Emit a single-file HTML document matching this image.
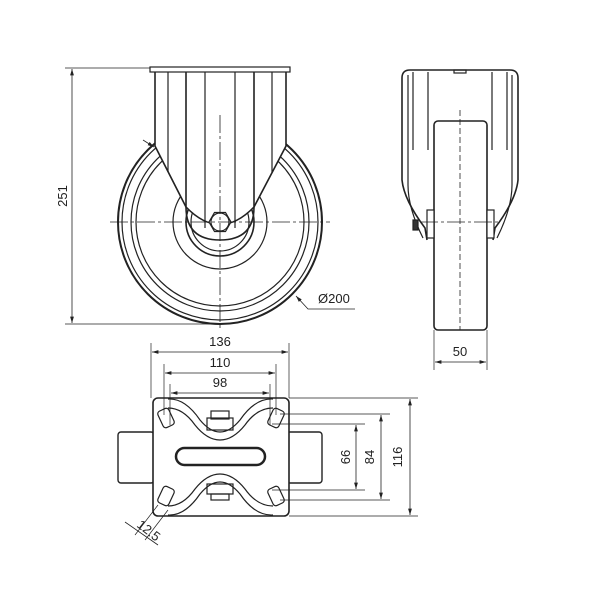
<!DOCTYPE html>
<html><head><meta charset="utf-8"><style>
html,body{margin:0;padding:0;background:#fff;}
svg{display:block;}
text{font-family:"Liberation Sans",sans-serif;font-size:13px;fill:#222;}
</style></head><body>
<svg width="600" height="600" viewBox="0 0 600 600" xmlns="http://www.w3.org/2000/svg">
<defs>
<marker id="a" viewBox="0 0 10 6" refX="10" refY="3" markerWidth="8" markerHeight="5" orient="auto-start-reverse"><path d="M0,0L10,3L0,6z" fill="#222"/></marker>
</defs>
<g fill="none" stroke="#222" stroke-width="1.2">
<!-- FRONT VIEW -->
<circle cx="220" cy="222" r="102" stroke-width="2"/>
<circle cx="220" cy="222" r="98"/>
<circle cx="220" cy="222" r="89"/>
<circle cx="220" cy="222" r="84"/>
<circle cx="220" cy="222" r="47"/>
<circle cx="220" cy="222" r="34" stroke-width="1.6"/>
<circle cx="220" cy="222" r="29"/>
<path d="M155,70 L155,146 L186,207 Q220,242 254,207 L286,146 L286,70 Z" fill="#fff" stroke="#222" stroke-width="1.6"/>
<rect x="150" y="67" width="140" height="5" fill="#fff"/>
<line x1="168" y1="72" x2="168" y2="172"/>
<line x1="186" y1="72" x2="186" y2="207" stroke-width="1.6"/>
<line x1="205" y1="72" x2="205" y2="228"/>
<line x1="235" y1="72" x2="235" y2="228"/>
<line x1="254" y1="72" x2="254" y2="207" stroke-width="1.6"/>
<line x1="272" y1="72" x2="272" y2="172"/>
<path d="M186,207 Q186,240 220,240 Q254,240 254,207" stroke-width="1.6"/>
<polygon points="231,222 225.5,231.5 214.5,231.5 209,222 214.5,212.5 225.5,212.5" fill="#fff"/>
<circle cx="220" cy="222" r="9"/>
<line x1="110" y1="222" x2="330" y2="222" stroke-dasharray="18,3,3,3" stroke-width="0.8"/>
<line x1="220" y1="115" x2="220" y2="330" stroke-dasharray="18,3,3,3" stroke-width="0.8"/>
<line x1="65" y1="68" x2="150" y2="68" stroke-width="0.7"/>
<line x1="65" y1="324" x2="218" y2="324" stroke-width="0.7"/>
<line x1="72" y1="69" x2="72" y2="323" stroke-width="0.8" marker-start="url(#a)" marker-end="url(#a)"/>
<line x1="143" y1="140" x2="154" y2="147" stroke-width="0.8" marker-end="url(#a)"/>
<path d="M355,309 L308,309 L296,296" stroke-width="0.8" marker-end="url(#a)"/>

<!-- SIDE VIEW -->
<path d="M427,240 L425,228 Q404,200 402,180 L402,78 Q402,70 410,70 L510,70 Q518,70 518,78 L518,180 Q516,200 495,228 L493,240" stroke-width="1.6"/>
<path d="M423,238 Q408,208 408,185 L408,75 M497,238 Q512,208 512,185 L512,75"/>
<line x1="413" y1="72" x2="413" y2="150"/><line x1="428" y1="72" x2="428" y2="150"/>
<line x1="492" y1="72" x2="492" y2="150"/><line x1="507" y1="72" x2="507" y2="150"/>
<rect x="454" y="70" width="12" height="3"/>
<rect x="434" y="121" width="53" height="209" rx="4" stroke-width="1.6" fill="#fff"/>
<rect x="427" y="210" width="7" height="28" fill="#fff"/>
<rect x="487" y="210" width="7" height="28" fill="#fff"/>
<rect x="413" y="220" width="5" height="10" fill="#333"/>
<line x1="420" y1="222" x2="500" y2="222" stroke-dasharray="18,3,3,3" stroke-width="0.8"/>
<line x1="460" y1="110" x2="460" y2="330" stroke-dasharray="6,3" stroke-width="0.8"/>
<line x1="434" y1="330" x2="434" y2="370" stroke-width="0.7"/>
<line x1="487" y1="330" x2="487" y2="370" stroke-width="0.7"/>
<line x1="435" y1="362" x2="486" y2="362" stroke-width="0.8" marker-start="url(#a)" marker-end="url(#a)"/>

<!-- TOP VIEW -->
<rect x="118" y="432" width="36" height="51" rx="3" stroke-width="1.4"/>
<rect x="287" y="432" width="35" height="51" rx="3" stroke-width="1.4"/>
<rect x="153" y="398" width="136" height="118" rx="5" stroke-width="1.6" fill="#fff"/>
<path d="M168,399 Q185,398 200,420 Q210,432 220,432 Q230,432 240,420 Q255,398 273,399"/>
<path d="M168,408 Q183,408 195,425 Q207,440 220,440 Q233,440 245,425 Q257,408 273,408"/>
<path d="M168,515 Q185,516 200,494 Q210,482 220,482 Q230,482 240,494 Q255,516 273,515"/>
<path d="M168,506 Q183,506 195,489 Q207,474 220,474 Q233,474 245,489 Q257,506 273,506"/>
<rect x="207" y="418" width="26" height="12"/><rect x="211" y="411" width="18" height="8"/>
<rect x="207" y="484" width="26" height="10"/><rect x="211" y="494" width="18" height="6"/>
<rect x="176" y="448" width="89" height="17" rx="8.5" stroke-width="2.5"/>
<rect x="160" y="409" width="12" height="18" rx="3" transform="rotate(-25 166 418)"/>
<rect x="270" y="409" width="12" height="18" rx="3" transform="rotate(25 276 418)"/>
<rect x="160" y="487" width="12" height="18" rx="3" transform="rotate(25 166 496)"/>
<rect x="270" y="487" width="12" height="18" rx="3" transform="rotate(-25 276 496)"/>
<g stroke-width="0.7">
<line x1="151" y1="343" x2="151" y2="398"/><line x1="289" y1="343" x2="289" y2="398"/>
<line x1="164" y1="364" x2="164" y2="415"/><line x1="276" y1="364" x2="276" y2="415"/>
<line x1="170" y1="384" x2="170" y2="425"/><line x1="270" y1="384" x2="270" y2="425"/>
<line x1="289" y1="398" x2="418" y2="398"/><line x1="289" y1="516" x2="418" y2="516"/>
<line x1="280" y1="414" x2="390" y2="414"/><line x1="280" y1="500" x2="390" y2="500"/>
<line x1="272" y1="424" x2="365" y2="424"/><line x1="272" y1="490" x2="365" y2="490"/>
<line x1="158" y1="505" x2="135" y2="535"/><line x1="168" y1="510" x2="145" y2="540"/>
</g>
<g stroke-width="0.8">
<line x1="152" y1="352" x2="288" y2="352" marker-start="url(#a)" marker-end="url(#a)"/>
<line x1="165" y1="373" x2="275" y2="373" marker-start="url(#a)" marker-end="url(#a)"/>
<line x1="171" y1="393" x2="269" y2="393" marker-start="url(#a)" marker-end="url(#a)"/>
<line x1="410" y1="399" x2="410" y2="515" marker-start="url(#a)" marker-end="url(#a)"/>
<line x1="381" y1="415" x2="381" y2="499" marker-start="url(#a)" marker-end="url(#a)"/>
<line x1="356" y1="425" x2="356" y2="489" marker-start="url(#a)" marker-end="url(#a)"/>
<line x1="125" y1="522" x2="158" y2="545"/>
</g>
</g>
<text x="67" y="196" text-anchor="middle" transform="rotate(-90 67 196)">251</text>
<text x="318" y="303">Ø200</text>
<text x="460" y="356" text-anchor="middle">50</text>
<text x="220" y="346" text-anchor="middle">136</text>
<text x="220" y="367" text-anchor="middle">110</text>
<text x="220" y="387" text-anchor="middle">98</text>
<text x="402" y="457" text-anchor="middle" transform="rotate(-90 402 457)">116</text>
<text x="374" y="457" text-anchor="middle" transform="rotate(-90 374 457)">84</text>
<text x="350" y="457" text-anchor="middle" transform="rotate(-90 350 457)">66</text>
<text x="146" y="534" text-anchor="middle" font-size="12" transform="rotate(38 146 534)">12.5</text>
</svg>
</body></html>
